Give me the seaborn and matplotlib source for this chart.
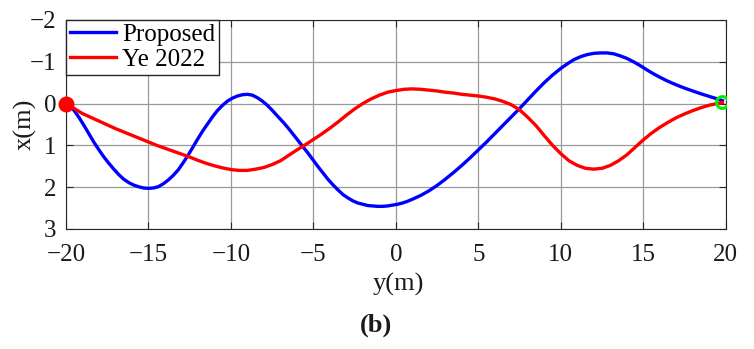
import pandas as pd
import matplotlib
matplotlib.use("Agg")
import matplotlib.pyplot as plt
import seaborn as sns

# trajectory points: y(m) along the road, x(m) lateral
proposed_y = [-20.0, -19.8, -19.5, -19.2, -18.9, -18.6, -18.3, -18.0, -17.7, -17.4,
              -17.1, -16.8, -16.5, -16.2, -15.9, -15.6, -15.3, -15.0, -14.7, -14.4,
              -14.1, -13.8, -13.5, -13.2, -12.9, -12.6, -12.3, -12.0, -11.7, -11.4,
              -11.1, -10.8, -10.5, -10.2, -9.9, -9.6, -9.3, -9.0, -8.7, -8.4,
              -8.1, -7.8, -7.5, -7.2, -6.8, -6.5, -6.2, -5.9, -5.6, -5.3,
              -5.0, -4.7, -4.4, -4.1, -3.8, -3.5, -3.2, -2.9, -2.6, -2.3,
              -2.0, -1.7, -1.4, -1.1, -0.8, -0.5, -0.2, 0.1, 0.4, 0.7,
              1.0, 1.5, 2.0, 2.5, 3.0, 3.5, 4.0, 4.5, 5.0, 5.5,
              6.0, 6.5, 7.0, 7.5, 8.0, 8.5, 9.0, 9.5, 10.0, 10.4,
              10.8, 11.2, 11.6, 12.0, 12.4, 12.8, 13.2, 13.6, 14.0, 14.4,
              14.8, 15.2, 15.6, 16.0, 16.4, 16.8, 17.2, 17.6, 18.0, 18.4,
              18.8, 19.2, 19.5, 19.8]
proposed_x = [0.00, 0.04, 0.17, 0.34, 0.53, 0.73, 0.93, 1.11, 1.28, 1.43,
              1.57, 1.70, 1.81, 1.89, 1.95, 1.99, 2.02, 2.03, 2.02, 1.99,
              1.92, 1.83, 1.72, 1.59, 1.42, 1.24, 1.04, 0.84, 0.65, 0.48,
              0.31, 0.16, 0.04, -0.06, -0.13, -0.18, -0.21, -0.22, -0.20, -0.14,
              -0.06, 0.04, 0.16, 0.29, 0.46, 0.60, 0.75, 0.90, 1.05, 1.20,
              1.36, 1.52, 1.67, 1.82, 1.95, 2.07, 2.18, 2.26, 2.33, 2.38,
              2.41, 2.44, 2.45, 2.46, 2.46, 2.45, 2.43, 2.41, 2.38, 2.34,
              2.29, 2.20, 2.09, 1.96, 1.81, 1.65, 1.48, 1.30, 1.11, 0.92,
              0.72, 0.52, 0.32, 0.12, -0.09, -0.30, -0.50, -0.68, -0.84, -0.95,
              -1.05, -1.12, -1.17, -1.20, -1.21, -1.21, -1.19, -1.14, -1.08, -1.00,
              -0.91, -0.81, -0.715, -0.63, -0.55, -0.48, -0.415, -0.355, -0.30, -0.245,
              -0.195, -0.145, -0.11, -0.07]

ye_y = [-20.0, -19.5, -19.0, -18.5, -18.0, -17.5, -17.0, -16.5, -16.0, -15.5,
        -15.0, -14.5, -14.0, -13.5, -13.0, -12.5, -12.0, -11.5, -11.0, -10.5,
        -10.0, -9.5, -9.0, -8.5, -8.0, -7.5, -7.0, -6.5, -6.0, -5.5,
        -5.0, -4.5, -4.0, -3.5, -3.0, -2.5, -2.0, -1.5, -1.0, -0.5,
        0.0, 0.5, 1.0, 1.5, 2.0, 2.5, 3.0, 3.5, 4.0, 4.5,
        5.0, 5.5, 6.0, 6.5, 7.0, 7.5, 8.0, 8.5, 9.0, 9.5,
        10.0, 10.5, 11.0, 11.5, 12.0, 12.5, 13.0, 13.5, 14.0, 14.5,
        15.0, 15.5, 16.0, 16.5, 17.0, 17.5, 18.0, 18.5, 19.0, 19.5,
        19.8]
ye_x = [0.00, 0.12, 0.24, 0.33, 0.42, 0.51, 0.60, 0.68, 0.76, 0.84,
        0.92, 1.00, 1.07, 1.14, 1.21, 1.28, 1.36, 1.43, 1.49, 1.54,
        1.58, 1.60, 1.60, 1.57, 1.53, 1.46, 1.37, 1.24, 1.11, 0.99,
        0.86, 0.73, 0.59, 0.44, 0.28, 0.13, 0.00, -0.11, -0.20, -0.27,
        -0.31, -0.34, -0.35, -0.34, -0.32, -0.30, -0.27, -0.25, -0.22, -0.20,
        -0.18, -0.15, -0.11, -0.05, 0.03, 0.15, 0.33, 0.53, 0.77, 1.00,
        1.20, 1.37, 1.48, 1.55, 1.57, 1.55, 1.48, 1.37, 1.23, 1.05,
        0.87, 0.71, 0.57, 0.45, 0.34, 0.25, 0.17, 0.10, 0.04, 0.00,
        -0.02]

start_pt = (-20.0, 0.0)
goal_pt = (19.8, -0.03)

df = pd.concat([
    pd.DataFrame({'y': proposed_y, 'x': proposed_x, 'method': 'Proposed'}),
    pd.DataFrame({'y': ye_y, 'x': ye_x, 'method': 'Ye 2022'}),
])

plt.rcParams['font.family'] = ['Liberation Serif', 'DejaVu Serif']

fig = plt.figure(figsize=(7.54, 3.49), dpi=100)
ax = fig.add_axes([0.0875, 0.344, 0.875, 0.599])

sns.lineplot(data=df, x='y', y='x', hue='method', sort=False,
             palette={'Proposed': '#0000ff', 'Ye 2022': '#ff0000'},
             linewidth=2.4, ax=ax)

ax.plot(goal_pt[0], goal_pt[1], 'o', markersize=8.5, markerfacecolor='none',
        markeredgecolor='#00ee00', markeredgewidth=2.2, zorder=5)
ax.plot(start_pt[0], start_pt[1], 'o', markersize=10.5, color='#ff0000',
        zorder=6, clip_on=False)

ax.set_xlim(-20, 20)
ax.set_ylim(3, -2)
ax.set_xticks(range(-20, 21, 5))
ax.set_yticks(range(-2, 4))
ax.set_xticklabels(['\u221220', '\u221215', '\u221210', '\u22125', '0', '5', '10', '15', '20'])
ax.set_yticklabels(['\u22122', '\u22121', '0', '1', '2', '3'])
ax.grid(True, color='#9a9a9a', linewidth=0.9)
ax.tick_params(direction='in', top=True, right=True, labelsize=18,
               length=5, width=0.8, colors='#262626', labelcolor='#1a1a1a')
ax.tick_params(axis='x', pad=11)
ax.tick_params(axis='y', pad=7)
for s in ax.spines.values():
    s.set_color('#262626')
    s.set_linewidth(0.8)

ax.set_xlabel('y(m)', fontsize=19, color='#1a1a1a')
ax.set_ylabel('x(m)', fontsize=19, color='#1a1a1a')
ax.xaxis.set_label_coords(0.503, -0.21)
ax.yaxis.set_label_coords(-0.045, 0.5)

ax.legend(loc='upper left', fontsize=18, frameon=True, fancybox=False,
          edgecolor='#262626', framealpha=1, borderpad=0.15, labelspacing=0.1,
          handlelength=1.85, handletextpad=0.25, borderaxespad=0.0)

fig.text(0.499, 0.069, '(b)', ha='center', va='center', fontsize=19,
         fontweight='bold', color='#1a1a1a')

fig.savefig('out.png', dpi=100)
